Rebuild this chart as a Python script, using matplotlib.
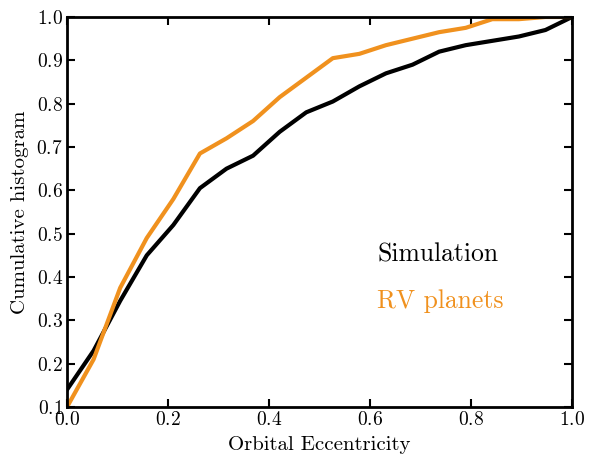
import matplotlib
matplotlib.use("Agg")
from matplotlib import pyplot as plt

plt.rcParams["font.family"] = ["cmr10", "DejaVu Serif"]
plt.rcParams["axes.formatter.use_mathtext"] = True

ecc = [k / 19 for k in range(20)]
simulation = [0.14, 0.23, 0.345, 0.45, 0.52, 0.605, 0.65, 0.68, 0.735, 0.78,
              0.805, 0.84, 0.87, 0.89, 0.92, 0.935, 0.945, 0.955, 0.97, 1.0]
rv_planets = [0.10, 0.21, 0.375, 0.49, 0.58, 0.685, 0.72, 0.76, 0.815, 0.86,
              0.905, 0.915, 0.935, 0.95, 0.965, 0.975, 0.995, 0.995, 1.0, 1.0]

orange = "#F0911E"

fig = plt.figure(figsize=(5.89, 4.57), dpi=100)
ax = fig.add_axes([0.1138, 0.1094, 0.8574, 0.8534])
ax.plot(ecc, simulation, color="black", lw=3)
ax.plot(ecc, rv_planets, color=orange, lw=3)

ax.set_xlim(0, 1)
ax.set_ylim(0.1, 1.0)
ax.set_xticks([0, 0.2, 0.4, 0.6, 0.8, 1.0])
ax.set_yticks([0.1, 0.2, 0.3, 0.4, 0.5, 0.6, 0.7, 0.8, 0.9, 1.0])
ax.tick_params(direction="in", top=True, right=True, length=6, width=1.5,
               labelsize=14, pad=3)
for s in ax.spines.values():
    s.set_linewidth(2)

ax.set_xlabel("Orbital Eccentricity", fontsize=15, labelpad=5)
ax.set_ylabel("Cumulative histogram", fontsize=15, labelpad=5)

ax.text(0.614, 0.435, "Simulation", fontsize=18.5, color="black", va="baseline")
ax.text(0.614, 0.328, "RV planets", fontsize=18.5, color=orange, va="baseline")

fig.savefig("out.png", dpi=100)
